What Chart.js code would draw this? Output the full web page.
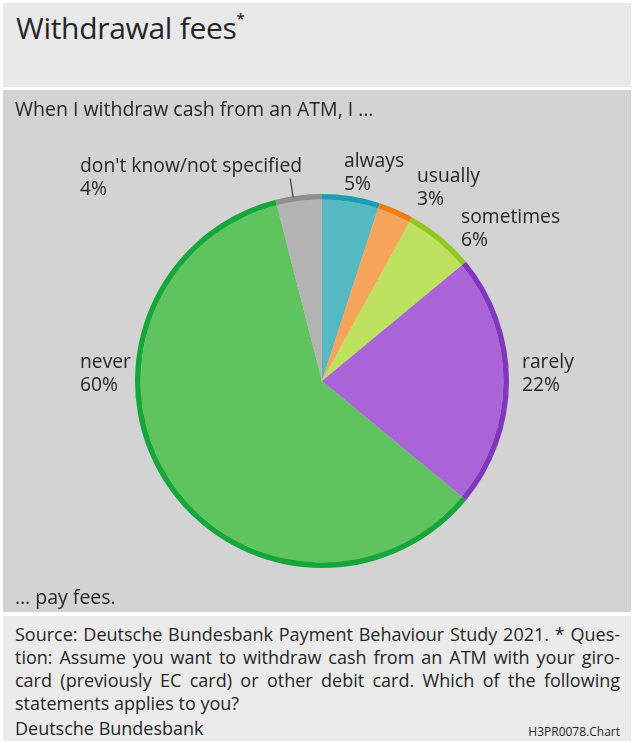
<!DOCTYPE html>
<html>
<head>
<meta charset="utf-8">
<script src="https://cdn.jsdelivr.net/npm/chart.js@4.4.0/dist/chart.umd.min.js"></script>
<style>
  html, body { margin: 0; padding: 0; background: #ffffff; }
  body { width: 632px; height: 743px; position: relative; overflow: hidden;
         font-family: "Open Sans", "Noto Sans", sans-serif; color: #262626; }
  #head { position: absolute; left: 3px; top: 3px; width: 628px; height: 84px; background: #e9e9e9; }
  #head h1 { position: absolute; left: 13px; top: 4px; margin: 0; font-weight: 400; font-size: 30px; letter-spacing: -0.3px; }
  #head h1 sup { font-size: 15px; font-weight: 600; position: relative; top: -4px; }
  #panel { position: absolute; left: 3px; top: 90px; width: 628px; height: 522px; background: #d3d3d3; }
  #panel canvas { position: absolute; left: 0; top: 0; }
  .ptxt { position: absolute; left: 12px; font-size: 19.5px; white-space: nowrap; }
  #foot { position: absolute; left: 3px; top: 616px; width: 628px; height: 125px; background: #ebebeb; font-size: 18px; }
  #foot .ln { position: absolute; left: 12px; width: 605px; text-align: justify; text-align-last: justify; white-space: nowrap; line-height: 23px; }
  #foot .last { text-align-last: left; }
  #code { position: absolute; right: 11px; top: 107px; font-size: 12px; }
</style>
</head>
<body>
<div id="head"><h1>Withdrawal fees<sup>*</sup></h1></div>
<div id="panel">
  <canvas id="c" width="628" height="522"></canvas>
  <div class="ptxt" style="top:5px;">When I withdraw cash from an ATM, I …</div>
  <div class="ptxt" style="top:493px;">… pay fees.</div>
</div>
<div id="foot">
  <div class="ln" style="top:7px;">Source: Deutsche Bundesbank Payment Behaviour Study 2021. * Ques-</div>
  <div class="ln" style="top:30px;">tion: Assume you want to withdraw cash from an ATM with your giro-</div>
  <div class="ln" style="top:53px;">card (previously EC card) or other debit card. Which of the following</div>
  <div class="ln last" style="top:76px;">statements applies to you?</div>
  <div class="ln last" style="top:101px;">Deutsche Bundesbank</div>
  <div id="code">H3PR0078.Chart</div>
</div>
<script>
// ---- data ----
const categories = ["always", "usually", "sometimes", "rarely", "never", "don't know/not specified"];
const shares = [5, 3, 6, 22, 60, 4];
const valueLabels = ["5%", "3%", "6%", "22%", "60%", "4%"];
// ---- styles ----
const fillColors = ["#56b9c1", "#f9a45b", "#bee15f", "#a964d8", "#5fc45e", "#b3b3b3"];
const rimColors  = ["#17a0b4", "#f27e12", "#8fca1d", "#8236c0", "#17a63b", "#8e8e8e"];
// label placement relative to pie centre (px): [dx, baseline dy of first line]
const labelOffsets = [[22, -214], [95, -199], [139, -158], [200, -13], [-242, -13], [-242, -209]];
const lineGap = 23;

const labelPlugin = {
  id: 'sliceLabels',
  afterDraw(chart) {
    const ctx = chart.ctx;
    const arcs = chart.getDatasetMeta(0).data;
    if (!arcs.length) return;
    const cx = arcs[0].x, cy = arcs[0].y, R = arcs[0].outerRadius;
    ctx.save();
    ctx.fillStyle = '#262626';
    ctx.font = '19.3px "Open Sans", "Noto Sans", sans-serif';
    ctx.textAlign = 'left';
    ctx.textBaseline = 'alphabetic';
    categories.forEach((name, i) => {
      const [dx, dy] = labelOffsets[i];
      ctx.fillText(name, cx + dx, cy + dy);
      ctx.fillText(valueLabels[i], cx + dx, cy + dy + lineGap);
    });
    // leader tick for the small grey slice
    const a = arcs[5];
    const mid = (a.startAngle + a.endAngle) / 2 - 0.03;
    ctx.strokeStyle = '#3a3a3a';
    ctx.lineWidth = 1.2;
    ctx.beginPath();
    ctx.moveTo(cx + Math.cos(mid) * (R - 1), cy + Math.sin(mid) * (R - 1));
    ctx.lineTo(cx + Math.cos(mid) * (R + 18), cy + Math.sin(mid) * (R + 18));
    ctx.stroke();
    ctx.restore();
  }
};

new Chart(document.getElementById('c'), {
  type: 'pie',
  data: {
    labels: categories,
    datasets: [
      { data: shares, backgroundColor: rimColors, borderWidth: 0, weight: 5.5, hoverOffset: 0 },
      { data: shares, backgroundColor: fillColors, borderWidth: 0, weight: 181, hoverOffset: 0 }
    ]
  },
  options: {
    responsive: false,
    animation: false,
    devicePixelRatio: 1,
    layout: { padding: { left: 132, right: 122, top: 104, bottom: 44 } },
    plugins: { legend: { display: false }, tooltip: { enabled: false } },
    events: []
  },
  plugins: [labelPlugin]
});
</script>
</body>
</html>
